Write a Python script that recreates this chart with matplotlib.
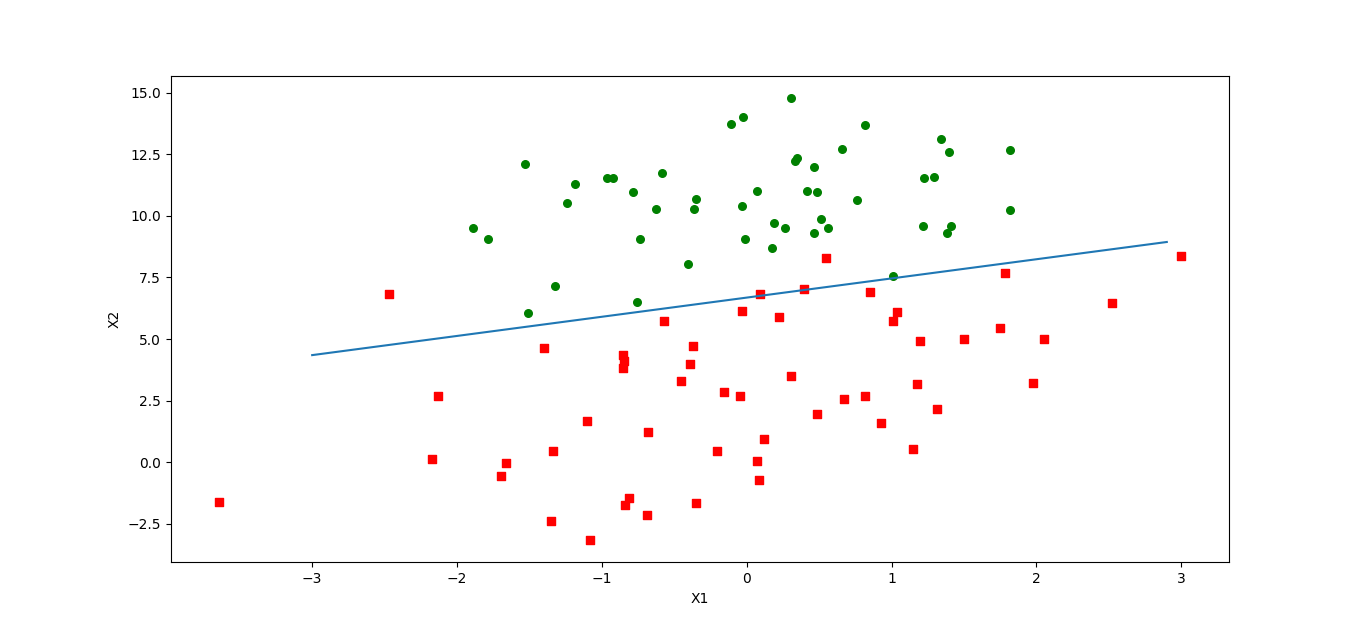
import numpy as np
import matplotlib
matplotlib.use("Agg")
import matplotlib.pyplot as plt

# class 1 (green circles)
green_x = [0.308, -0.024, -0.107, 0.820, 1.339, 1.394, 0.661, 1.817, 0.349, 0.336,
           -1.533, 0.467, -0.585, -0.965, -0.924, 1.291, 1.221, -1.187, -0.785, 0.073,
           0.419, 0.488, -0.349, 0.758, -1.242, -0.031, -0.626, -0.363, 1.817, 0.516,
           0.190, 1.408, 1.215, 0.266, 0.564, 1.381, 0.467, -1.893, -1.789, -0.010,
           -0.737, 0.176, -0.405, 1.007, -1.325, -0.758, -1.512]
green_y = [14.78, 14.02, 13.74, 13.70, 13.13, 12.60, 12.72, 12.68, 12.36, 12.24,
           12.11, 11.99, 11.75, 11.54, 11.54, 11.59, 11.54, 11.30, 10.98, 11.02,
           11.02, 10.98, 10.69, 10.65, 10.53, 10.41, 10.28, 10.28, 10.24, 9.88,
           9.72, 9.59, 9.59, 9.51, 9.51, 9.31, 9.31, 9.51, 9.07, 9.07,
           9.07, 8.70, 8.05, 7.56, 7.15, 6.50, 6.06]

# class 0 (red squares)
red_x = [3.000, 0.550, 1.782, 0.398, -2.467, 0.848, 0.093, 2.522, 1.035, -0.031,
         0.225, 1.007, -0.571, 1.747, 1.498, 2.052, 1.194, -0.370, -1.401, -0.855,
         -0.848, -0.391, -0.855, 0.308, -0.453, 1.173, 1.976, -0.156, -2.128, -0.045,
         0.820, 0.675, 1.311, 0.488, 0.924, -1.104, -0.682, 0.121, -0.204, -1.339,
         1.145, -2.176, 0.073, -1.664, -1.699, 0.087, -0.813, -3.644, -0.841, -0.349,
         -0.689, -1.353, -1.083]
red_y = [8.37, 8.29, 7.68, 7.03, 6.83, 6.91, 6.83, 6.46, 6.10, 6.14,
         5.89, 5.73, 5.73, 5.45, 5.00, 5.00, 4.92, 4.72, 4.63, 4.35,
         4.11, 3.98, 3.82, 3.50, 3.29, 3.17, 3.21, 2.85, 2.68, 2.68,
         2.68, 2.56, 2.15, 1.95, 1.59, 1.67, 1.22, 0.93, 0.45, 0.45,
         0.53, 0.12, 0.04, -0.04, -0.57, -0.73, -1.46, -1.63, -1.75, -1.67,
         -2.15, -2.40, -3.17]

# decision boundary: w0 + w1*x1 + w2*x2 = 0
weights = [6.68, 0.778, -1.0]
line_x = np.arange(-3.0, 3.0, 0.1)
line_y = (-weights[0] - weights[1] * line_x) / weights[2]

fig = plt.figure(figsize=(13.66, 6.32), dpi=100)
ax = fig.add_subplot(111)
ax.scatter(red_x, red_y, s=30, c='red', marker='s')
ax.scatter(green_x, green_y, s=30, c='green')
ax.plot(line_x, line_y)
ax.set_xlabel('X1')
ax.set_ylabel('X2')
fig.savefig('out.png', dpi=100)
